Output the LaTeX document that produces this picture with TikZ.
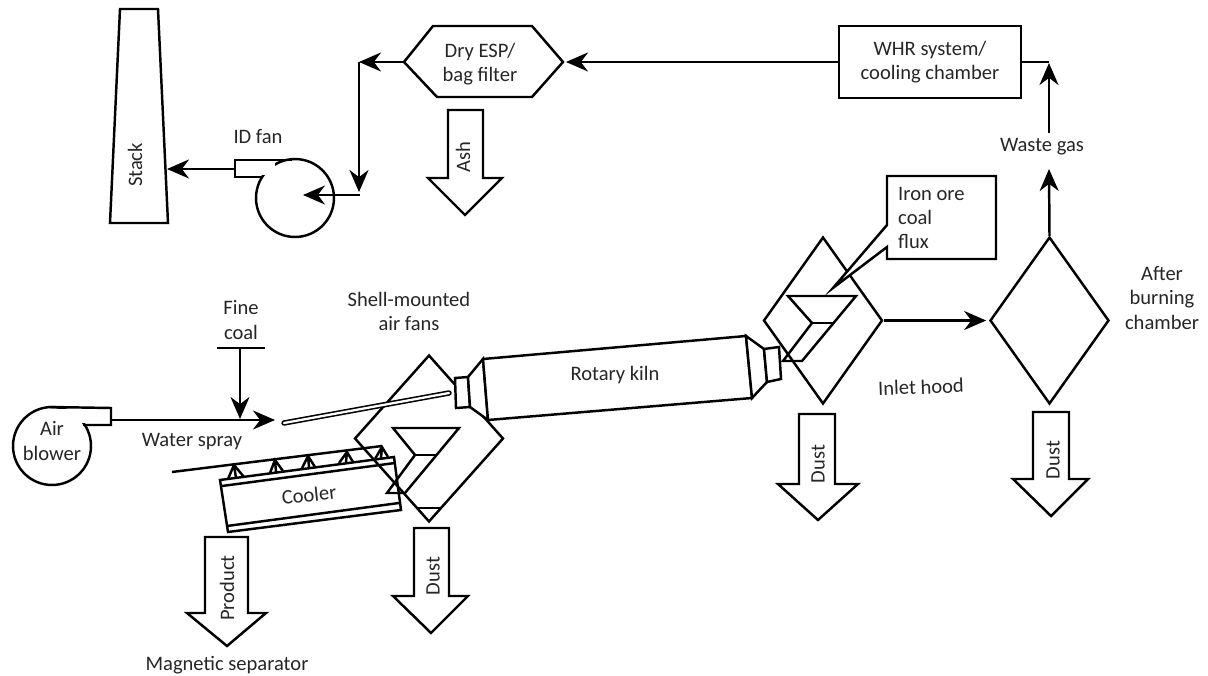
\documentclass[tikz,border=0pt]{standalone}
\usepackage{fontspec}
\setmainfont{Carlito}
\usepackage{tikz}
\usetikzlibrary{shapes.geometric, arrows.meta}
\definecolor{inkgrey}{HTML}{262626}

\begin{document}
\begin{tikzpicture}[
        x=0.02cm, y=-0.02cm,
        font=\fontsize{11.7}{13.7}\selectfont,
        >={Stealth[length=4.4mm,width=3.8mm]},
        line width=1.4pt,
        label/.style={text=inkgrey, align=center, inner sep=0pt},
        sidelabel/.style={label, rotate=90},
        hood/.style={draw, diamond, inner sep=0pt, minimum width=2.38cm, minimum height=3.34cm},
        fanbody/.style={draw, circle, inner sep=0pt, minimum size=1.56cm},
        plainbox/.style={draw, rectangle, inner sep=0pt, align=center, text=inkgrey},
        flowline/.style={draw, ->},
        bigarrow/.style={draw, line join=miter}
    ]
      \useasboundingbox (0,0) rectangle (1208,676);

      % --- Top row: stack, ID fan, filter, WHR ---
      \draw (120,9) -- (158,9) -- (168,223) -- (110,223) -- cycle;
      \coordinate (stackin) at (167,169);
      \node[sidelabel] (stacktxt) at (135,165) {Stack};

      \node[fanbody] (idfan) at (295,198) {};
      \draw[fill=white, draw=none] (237,162) rectangle (275,175);
      \draw (263,177) -- (235,177) -- (235,160) -- (292,160);
      \coordinate (idout) at (235,169);
      \coordinate (idin) at (303,195);
      \coordinate (idfeed) at (360,195);
      \node[label] (idtxt) at (258,137) {ID fan};

      \coordinate (junction) at (359,62);
      \coordinate (junctionb) at (359,192);
      \draw (404,62) -- (433,26) -- (532,26) -- (563,62) -- (532,97) -- (437,97) -- cycle;
      \coordinate (filterl) at (404,62);
      \coordinate (filterr) at (566,62);
      \node[label] (filtertxt) at (480,64) {Dry ESP/\\bag filter};

      \node[plainbox, minimum width=3.64cm, minimum height=1.44cm] (whr) at (930,62) {WHR system/\\cooling chamber};
      \coordinate (whrturn) at (1049,62);

      \draw[flowline] (filterl) -- (junction);
      \draw[flowline] (junction) -- (junctionb);
      \draw[flowline] (idfeed) -- (idin);
      \draw[flowline] (idout) -- (stackin);
      \draw[flowline] (whr.west) -- (filterr);

      % Ash outlet
      \draw[bigarrow] (448,110) -- (483,110) -- (483,178) -- (502,178) -- (465,215) -- (428,178) -- (448,178) -- cycle;
      \node[sidelabel] (ashtxt) at (463,157) {Ash};

      % --- Right side: after burning chamber and waste gas ---
      \node[hood] (burner) at (1049.5,320.5) {};
      \node[label] (burnertxt) at (1162,298) {After\\burning\\chamber};
      \node[label] (wastetxt) at (1042,147) {Waste gas};
      \coordinate (wastetop) at (1049,133);
      \coordinate (wastelow) at (1049,169);
      \draw (whr.east |- whrturn) -- (whrturn);
      \draw[flowline] (wastetop) -- (1049,63);
      \draw[flowline] (burner.north) -- (wastelow);

      \draw[bigarrow] (1033,412) -- (1069,412) -- (1069,479) -- (1088,479) -- (1051,516) -- (1013,479) -- (1033,479) -- cycle;
      \node[sidelabel] (dustc) at (1053,460) {Dust};

      % --- Inlet hood ---
      \node[hood] (inlet) at (823,320.5) {};
      \node[label, rotate=2] (inlettxt) at (921,387) {Inlet hood};
      \draw[flowline, shorten >=1.5pt] (inlet.east) -- (burner.west);

      \draw (788,296) -- (856,296) -- (802,361) -- (783,361) -- (812,323) -- cycle;
      \draw (812,323) -- (833,323);

      \draw[fill=white] (887,225) -- (887,176) -- (996,176) -- (996,259) -- (887,259) -- (887,247) -- (833,288) -- cycle;
      \node[label, align=left, anchor=west] (feedtxt) at (897,218) {Iron ore\\coal\\flux};

      \draw[bigarrow] (799,414) -- (835,414) -- (835,484) -- (858,484) -- (818,520) -- (778,484) -- (799,484) -- cycle;
      \node[sidelabel] (dustb) at (818,464) {Dust};

      % --- Shell hood, lance and kiln ---
      \node[hood, minimum width=2.98cm] (shell) at (429,438.5) {};
      \draw (393,428) -- (459,428) -- (405,493) -- (387,493) -- (415,455) -- cycle;
      \draw (415,455) -- (436,455);
      \draw (418,508) -- (442,508);
      \draw[line width=0.9pt, double, double distance=1.3pt, line cap=round] (284,423) -- (449,393);

      % Rotary kiln
      \draw[fill=white] (455,378) -- (468,377) -- (470,407) -- (456,408) -- cycle;
      \draw[fill=white] (468,377) -- (483,359) -- (488,420) -- (470,407) -- cycle;
      \draw[fill=white] (483,359) -- (746,336) -- (752,398) -- (488,420) -- cycle;
      \draw[fill=white] (746,336) -- (764,349) -- (767,382) -- (752,398) -- cycle;
      \draw[fill=white] (764,349) -- (779,347) -- (781,379) -- (767,382) -- cycle;
      \node[label] (kilntxt) at (615,375) {Rotary kiln};
      \node[label] (fanstxt) at (409,311) {Shell-mounted\\air fans};

      % --- Air blower and fine coal ---
      \node[fanbody] (blower) at (52,446) {};
      \draw[fill=white, draw=none] (54,409) rectangle (90,423);
      \draw (83,425) -- (111,425) -- (111,408) -- (50,407);
      \node[label] (blowertxt) at (52,441) {Air\\blower};
      \coordinate (blowout) at (111,420);
      \coordinate (lancein) at (275,420);
      \draw[flowline] (blowout) -- (lancein);

      \coordinate (coalbara) at (217,348);
      \coordinate (coalbarb) at (265,348);
      \coordinate (coaltop) at (240,348);
      \coordinate (coalin) at (240,419);
      \draw (coalbara) -- (coalbarb);
      \draw[flowline] (coaltop) -- (coalin);
      \node[label] (coaltxt) at (241,320) {Fine\\coal};
      \node[label] (spraytxt) at (192,442) {Water spray};

      % --- Cooler with spray pipe ---
      \draw (172,472) -- (382,446);
      \draw (220,480) -- (394,457) -- (401,510) -- (228,532) -- cycle;
      \draw (222,486) -- (395,463);
      \draw (227,526) -- (399,503);
      \node[label, rotate=6] (coolertxt) at (309,495) {Cooler};

      % Spray nozzles
      \draw (228,479) -- (234,465) -- (244,477) (234,465) -- (236,478);
      \draw (270,473) -- (275,460) -- (283,471) (275,460) -- (276,472);
      \draw (302,468) -- (308,456) -- (315,467) (308,456) -- (309,467);
      \draw (339,463) -- (347,452) -- (353,462) (347,452) -- (346,462);
      \draw (375,459) -- (382,447) -- (388,457) (382,447) -- (381,458);

      % --- Product and dust outlets ---
      \draw[bigarrow] (205,537) -- (248,537) -- (248,613) -- (266,613) -- (227,646) -- (187,613) -- (205,613) -- cycle;
      \node[sidelabel] (prodtxt) at (227,588) {Product};
      \draw[bigarrow] (414,528) -- (449,528) -- (449,596) -- (468,596) -- (431,633) -- (393,596) -- (414,596) -- cycle;
      \node[sidelabel] (dusta) at (433,576) {Dust};
      \node[label] (septxt) at (227,665) {Magnetic separator};
    \end{tikzpicture}
\end{document}
